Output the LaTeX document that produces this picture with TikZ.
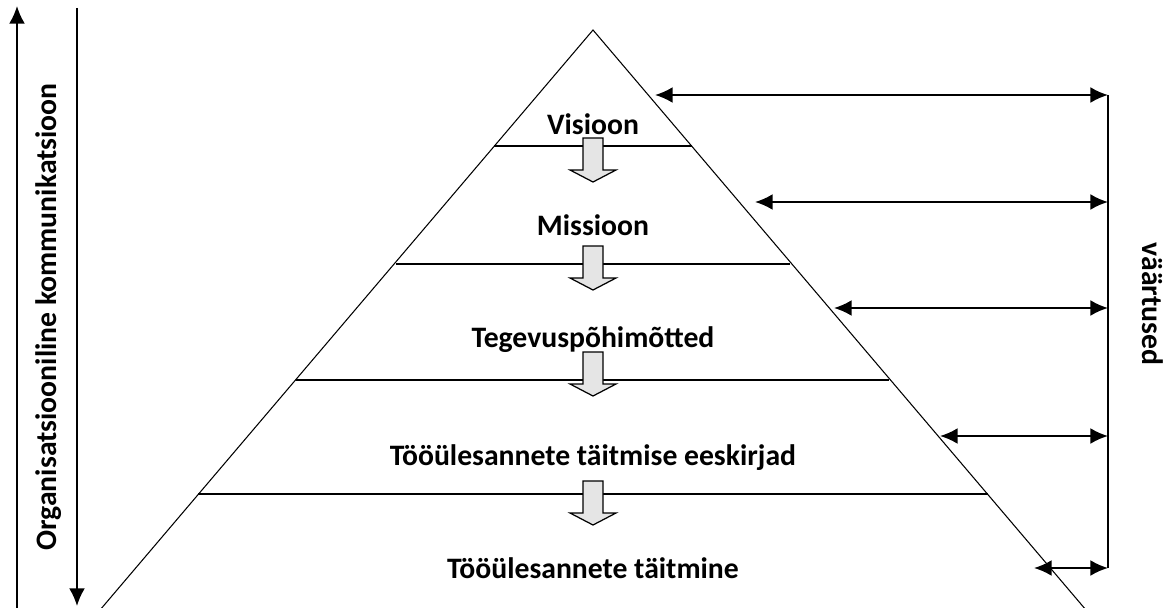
\documentclass[tikz,border=0pt]{standalone}
\usepackage{fontspec}
\setmainfont{Carlito}
\usetikzlibrary{arrows.meta}

\tikzset{
    lbl/.style={font=\fontsize{16.9}{20}\selectfont\bfseries, inner sep=0pt},
    level/.style={line width=0.8pt},
    link/.style={line width=1.1pt, {Latex[length=10pt,width=9pt]}-{Latex[length=10pt,width=9pt]}},
    flow/.style={line width=1.1pt, -{Latex[length=10pt,width=9pt]}},
    downbox/.style={draw=black, fill=black!10, line width=0.7pt}
}
% block arrow pointing down, top at y = #1
\newcommand{\downbox}[1]{
    \draw[downbox] (583, #1) -- (603, #1) -- (603, #1+32) -- (616, #1+32)
        -- (593, #1+44) -- (570, #1+32) -- (583, #1+32) -- cycle;
}

\begin{document}
\begin{tikzpicture}[x=0.02cm, y=-0.02cm]
        \useasboundingbox (0, 0) rectangle (1169, 608);
        % pyramid
        \coordinate (apex) at (593, 30);
        \coordinate (bl) at (100, 610);
        \coordinate (br) at (1086, 610);
        \draw [line width=0.6pt] (bl) -- (apex) -- (br);
        \draw [level] (494, 146) -- (692, 146);
        \draw [level] (396, 264) -- (790, 264);
        \draw [level] (296, 380) -- (889, 380);
        \draw [level] (198, 494) -- (988, 494);
        \downbox{138}
        \downbox{246}
        \downbox{352}
        \downbox{481}
        \node[lbl, anchor=base] (visioon) at (593, 134) {Visioon};
        \node[lbl, anchor=base] (missioon) at (593, 235) {Missioon};
        \node[lbl, anchor=base] (pohimotted) at (593, 347) {Tegevuspõhimõtted};
        \node[lbl, anchor=base] (eeskirjad) at (593, 465) {Tööülesannete täitmise eeskirjad};
        \node[lbl, anchor=base] (taitmine) at (593, 578) {Tööülesannete täitmine};
        % values
        \coordinate (e1) at (655, 95);
        \coordinate (e2) at (755, 202);
        \coordinate (e3) at (834, 308);
        \coordinate (e4) at (940, 436);
        \coordinate (e5) at (1034, 568);
        \coordinate (v1) at (1108, 95);
        \coordinate (v2) at (1108, 202);
        \coordinate (v3) at (1108, 308);
        \coordinate (v4) at (1108, 436);
        \coordinate (v5) at (1108, 568);
        \draw [line width=1.1pt] (v1) -- (v5);
        \draw [link] (e1) -- (v1);
        \draw [link] (e2) -- (v2);
        \draw [link] (e3) -- (v3);
        \draw [link] (e4) -- (v4);
        \draw [link] (e5) -- (v5);
        \node[lbl, rotate=-90] (vaartused) at (1153, 304) {väärtused};
        % communication
        \coordinate (up0) at (17, 608);
        \coordinate (up1) at (17, 6);
        \coordinate (down0) at (77, 8);
        \coordinate (down1) at (77, 606);
        \draw [flow] (up0) -- (up1);
        \draw [flow] (down0) -- (down1);
        \node[lbl, rotate=90] (kommunikatsioon) at (49, 317) {Organisatsiooniline kommunikatsioon};
\end{tikzpicture}
\end{document}
